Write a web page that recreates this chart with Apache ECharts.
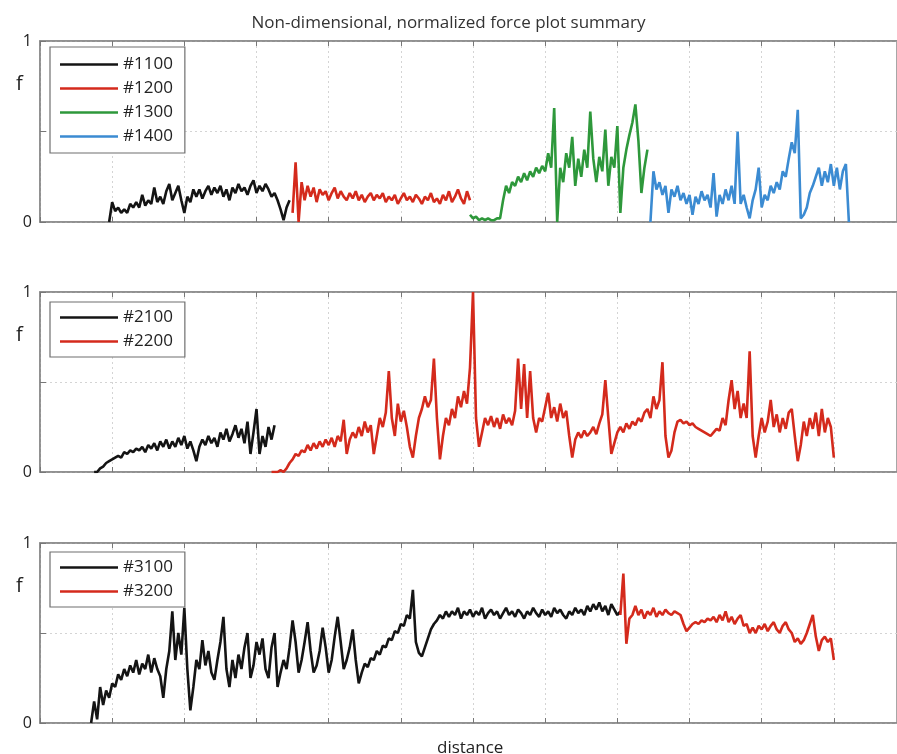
<!DOCTYPE html>
<html>
<head>
<meta charset="utf-8">
<script src="https://cdn.jsdelivr.net/npm/echarts@6/dist/echarts.min.js"></script>
<style>
  html, body { margin: 0; padding: 0; background: #fff; }
  #main { width: 897px; height: 754px; }
</style>
</head>
<body>
<div id="main"></div>
<script>
// distance runs 0..285, one grid division every 24 units
// each series: first distance, then one force value per distance unit

// panel 1
var d1100 = 23;
var f1100 = [0.0,0.11,0.06,0.08,0.05,0.07,0.05,0.1,0.08,0.11,
    0.08,0.15,0.09,0.12,0.1,0.19,0.11,0.14,0.1,0.17,
    0.21,0.12,0.16,0.2,0.12,0.05,0.14,0.11,0.18,0.14,
    0.18,0.13,0.17,0.2,0.15,0.19,0.16,0.2,0.14,0.18,
    0.12,0.19,0.16,0.21,0.17,0.19,0.15,0.2,0.23,0.16,
    0.2,0.17,0.21,0.18,0.14,0.16,0.12,0.07,0.01,0.08,
    0.12];
var d1200 = 84;
var f1200 = [0.05,0.33,0.0,0.22,0.12,0.2,0.14,0.19,0.11,0.18,
    0.15,0.17,0.12,0.16,0.19,0.13,0.17,0.14,0.12,0.16,
    0.13,0.17,0.12,0.15,0.11,0.14,0.16,0.12,0.15,0.13,
    0.16,0.11,0.14,0.12,0.15,0.1,0.13,0.16,0.12,0.14,
    0.11,0.15,0.13,0.1,0.14,0.12,0.16,0.11,0.13,0.1,
    0.15,0.12,0.17,0.11,0.14,0.18,0.13,0.1,0.17,0.12];
var d1300 = 143;
var f1300 = [0.04,0.02,0.03,0.01,0.02,0.01,0.02,0.01,0.01,0.02,
    0.02,0.12,0.2,0.16,0.22,0.2,0.25,0.22,0.27,0.23,
    0.28,0.25,0.3,0.27,0.31,0.28,0.38,0.3,0.63,0.0,
    0.3,0.22,0.38,0.3,0.47,0.2,0.35,0.25,0.4,0.3,
    0.61,0.35,0.22,0.36,0.28,0.51,0.2,0.36,0.3,0.53,
    0.05,0.3,0.4,0.48,0.55,0.65,0.45,0.16,0.3,0.4];
var d1400 = 203;
var f1400 = [0.0,0.28,0.18,0.22,0.15,0.2,0.05,0.18,0.14,0.2,
    0.12,0.16,0.1,0.15,0.04,0.14,0.1,0.17,0.12,0.15,
    0.08,0.27,0.03,0.15,0.1,0.18,0.12,0.2,0.1,0.5,
    0.1,0.15,0.08,0.02,0.12,0.18,0.3,0.08,0.15,0.12,
    0.2,0.16,0.22,0.18,0.28,0.25,0.35,0.44,0.38,0.62,
    0.02,0.04,0.08,0.16,0.2,0.25,0.3,0.2,0.28,0.22,
    0.32,0.2,0.3,0.18,0.28,0.32,0.0];

// panel 2
var d2100 = 18;
var f2100 = [0.0,0.0,0.02,0.03,0.05,0.06,0.07,0.08,0.09,0.08,
    0.11,0.1,0.12,0.11,0.13,0.12,0.14,0.11,0.15,0.13,
    0.16,0.12,0.17,0.14,0.18,0.13,0.17,0.14,0.19,0.15,
    0.2,0.13,0.17,0.12,0.06,0.14,0.18,0.15,0.2,0.16,
    0.19,0.14,0.22,0.18,0.24,0.17,0.21,0.26,0.19,0.24,
    0.16,0.28,0.1,0.22,0.35,0.1,0.2,0.14,0.25,0.18,
    0.26];
var d2200 = 77;
var f2200 = [0.0,0.0,0.0,0.01,0.0,0.02,0.05,0.07,0.1,0.09,
    0.12,0.11,0.15,0.12,0.16,0.13,0.17,0.14,0.18,0.15,
    0.19,0.14,0.2,0.17,0.29,0.1,0.18,0.22,0.19,0.25,
    0.2,0.28,0.22,0.26,0.1,0.2,0.3,0.25,0.33,0.56,
    0.3,0.2,0.38,0.28,0.34,0.25,0.14,0.08,0.2,0.3,
    0.35,0.42,0.36,0.4,0.63,0.3,0.07,0.2,0.3,0.26,
    0.35,0.3,0.42,0.36,0.45,0.38,0.58,1.0,0.3,0.14,
    0.22,0.3,0.26,0.31,0.25,0.3,0.24,0.32,0.27,0.3,
    0.26,0.34,0.63,0.35,0.6,0.3,0.56,0.3,0.22,0.3,
    0.28,0.36,0.44,0.3,0.36,0.28,0.38,0.3,0.34,0.2,
    0.08,0.18,0.22,0.19,0.23,0.2,0.22,0.25,0.21,0.27,
    0.32,0.51,0.3,0.1,0.16,0.22,0.25,0.22,0.27,0.24,
    0.28,0.26,0.3,0.28,0.33,0.35,0.3,0.42,0.35,0.4,
    0.61,0.2,0.08,0.12,0.22,0.28,0.29,0.27,0.28,0.26,
    0.27,0.25,0.24,0.23,0.22,0.21,0.2,0.22,0.24,0.23,
    0.3,0.26,0.4,0.51,0.35,0.45,0.3,0.38,0.3,0.67,
    0.2,0.08,0.2,0.3,0.22,0.28,0.4,0.25,0.32,0.22,
    0.3,0.24,0.33,0.35,0.2,0.06,0.15,0.28,0.2,0.3,
    0.24,0.33,0.2,0.35,0.22,0.3,0.25,0.08];

// panel 3
var d3100 = 17;
var f3100 = [0.0,0.12,0.02,0.2,0.1,0.18,0.14,0.22,0.2,0.27,
    0.24,0.3,0.26,0.32,0.28,0.35,0.27,0.33,0.3,0.38,
    0.28,0.36,0.3,0.26,0.14,0.3,0.4,0.62,0.35,0.5,
    0.38,0.64,0.3,0.07,0.2,0.35,0.3,0.46,0.32,0.4,
    0.28,0.24,0.35,0.45,0.59,0.3,0.2,0.35,0.25,0.38,
    0.3,0.42,0.5,0.25,0.32,0.45,0.38,0.47,0.3,0.25,
    0.42,0.5,0.2,0.28,0.35,0.3,0.42,0.57,0.45,0.28,
    0.35,0.45,0.56,0.4,0.28,0.32,0.4,0.53,0.42,0.28,
    0.35,0.48,0.59,0.45,0.3,0.35,0.42,0.52,0.35,0.22,
    0.28,0.33,0.31,0.36,0.35,0.4,0.38,0.43,0.42,0.47,
    0.46,0.51,0.5,0.55,0.54,0.6,0.58,0.74,0.45,0.39,
    0.37,0.42,0.47,0.52,0.55,0.57,0.6,0.58,0.62,0.59,
    0.62,0.6,0.64,0.58,0.62,0.6,0.63,0.59,0.62,0.6,
    0.64,0.58,0.61,0.63,0.6,0.62,0.58,0.61,0.64,0.6,
    0.62,0.59,0.63,0.61,0.58,0.62,0.6,0.64,0.61,0.59,
    0.63,0.6,0.62,0.59,0.64,0.61,0.63,0.6,0.58,0.62,
    0.6,0.64,0.61,0.63,0.6,0.65,0.62,0.66,0.63,0.67,
    0.62,0.65,0.6,0.66,0.63,0.6,0.62];
var d3200 = 193;
var f3200 = [0.6,0.83,0.44,0.58,0.6,0.65,0.6,0.63,0.58,0.62,
    0.6,0.64,0.59,0.62,0.6,0.63,0.61,0.6,0.62,0.61,
    0.6,0.55,0.51,0.53,0.55,0.56,0.55,0.57,0.56,0.58,
    0.57,0.59,0.56,0.6,0.57,0.62,0.56,0.59,0.55,0.58,
    0.6,0.54,0.55,0.5,0.53,0.5,0.54,0.52,0.55,0.51,
    0.54,0.56,0.52,0.5,0.54,0.56,0.52,0.5,0.45,0.47,
    0.44,0.46,0.5,0.55,0.6,0.48,0.4,0.46,0.48,0.45,
    0.47,0.35];

var yTickLabels = ['0', '1'];

var BLACK = '#141414', RED = '#d42a1c', GREEN = '#2e983b', BLUE = '#3b8bd2';
var FONT = 'Open Sans';

function pairs(start, vals) {
    return vals.map(function (v, i) { return [start + i, v]; });
}

var panels = [
    {top: 41, height: 181, legendTop: 47, legendPad: [9, 12, 8, 10], series: [
        ['#1100', d1100, f1100, BLACK], ['#1200', d1200, f1200, RED],
        ['#1300', d1300, f1300, GREEN], ['#1400', d1400, f1400, BLUE]]},
    {top: 292, height: 180, legendTop: 302, legendPad: [7, 12, 7, 10], series: [
        ['#2100', d2100, f2100, BLACK], ['#2200', d2200, f2200, RED]]},
    {top: 543, height: 180, legendTop: 552, legendPad: [7, 12, 7, 10], series: [
        ['#3100', d3100, f3100, BLACK], ['#3200', d3200, f3200, RED]]}
];

var grids = [], xAxes = [], yAxes = [], legends = [], series = [], titles = [];

titles.push({
    text: 'Non-dimensional, normalized force plot summary',
    left: 'center', top: 10,
    textStyle: {fontFamily: FONT, fontSize: 17, fontWeight: 'normal', color: '#333'}
});
titles.push({
    text: 'distance', left: 432, top: 735,
    textStyle: {fontFamily: FONT, fontSize: 17, fontWeight: 'normal', color: '#222'}
});

panels.forEach(function (p, k) {
    grids.push({left: 40, right: 0, top: p.top, height: p.height,
        show: true, borderColor: '#8a8a8a', borderWidth: 1.5, backgroundColor: '#fff'});
    var xBase = {
        type: 'value', gridIndex: k, min: 0, max: 285, interval: 24,
        axisLabel: {show: false},
        axisLine: {show: true, lineStyle: {color: '#8a8a8a', width: 1.5}},
        axisTick: {show: true, inside: true, length: 5, lineStyle: {color: '#777'}}
    };
    xAxes.push(Object.assign({}, xBase, {position: 'bottom',
        splitLine: {show: true, lineStyle: {color: '#d4d4d4', type: [2, 3]}}}));
    xAxes.push(Object.assign({}, xBase, {position: 'top', splitLine: {show: false}}));
    yAxes.push({
        type: 'value', gridIndex: k, min: 0, max: 1, interval: 0.5,
        axisLine: {show: true, lineStyle: {color: '#8a8a8a', width: 1.5}},
        axisTick: {show: true, inside: true, length: 6, lineStyle: {color: '#777'}},
        axisLabel: {
            margin: 8, fontFamily: FONT, fontSize: 16, color: '#222',
            formatter: function (v) { return v === 0 ? yTickLabels[0] : (v === 1 ? yTickLabels[1] : ''); }
        },
        splitLine: {show: true, lineStyle: {color: '#d4d4d4', type: [2, 3]}}
    });
    titles.push({
        text: 'f', left: 11, top: p.top + 28,
        textStyle: {fontFamily: FONT, fontSize: 20, fontWeight: 'normal', color: '#222'}
    });
    legends.push({
        orient: 'vertical', left: 50, top: p.legendTop,
        data: p.series.map(function (s) { return s[0]; }),
        icon: 'rect', itemWidth: 58, itemHeight: 2.5, itemGap: 7,
        padding: p.legendPad,
        borderColor: '#6f6f6f', borderWidth: 1.2, backgroundColor: '#fff',
        selectedMode: false,
        textStyle: {fontFamily: FONT, fontSize: 17, color: '#222'}
    });
    p.series.forEach(function (s) {
        series.push({
            name: s[0], type: 'line', xAxisIndex: 2 * k, yAxisIndex: k,
            data: pairs(s[1], s[2]), showSymbol: false, symbol: 'none',
            color: s[3], lineStyle: {color: s[3], width: 2.6},
            z: 2
        });
    });
});

var chart = echarts.init(document.getElementById('main'));
chart.setOption({
    animation: false,
    backgroundColor: '#fff',
    title: titles,
    grid: grids,
    xAxis: xAxes,
    yAxis: yAxes,
    legend: legends,
    series: series
});
</script>
</body>
</html>
